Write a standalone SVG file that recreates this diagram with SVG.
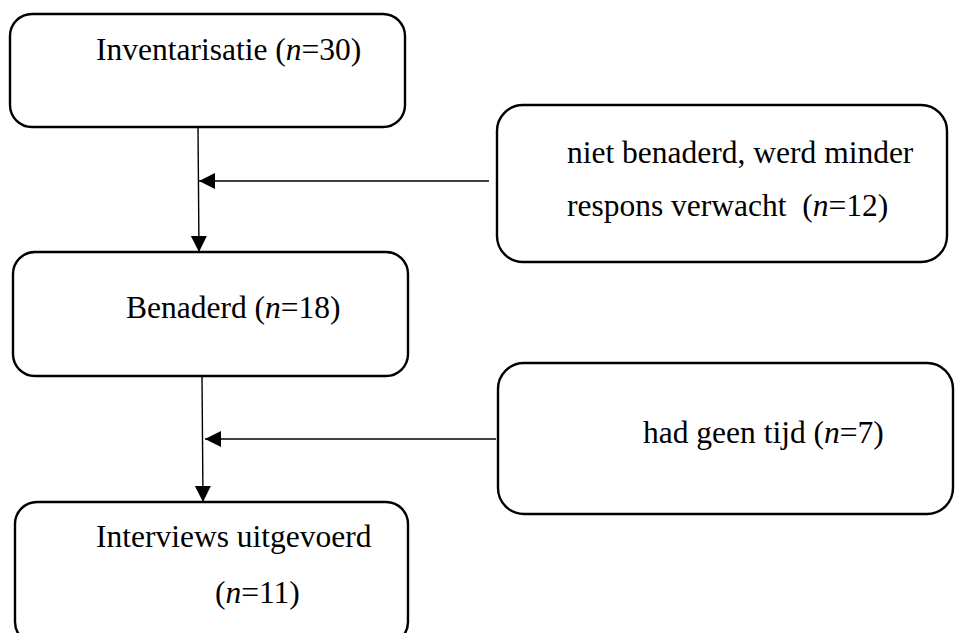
<svg xmlns="http://www.w3.org/2000/svg" width="955" height="633" viewBox="0 0 955 633">
<style>
  .box { fill: #ffffff; stroke: #000000; stroke-width: 2.4; }
  .lbl { font-family: "Liberation Serif", "Times New Roman", serif; font-size: 31.5px; fill: #000000; }
  .it { font-style: italic; }
  .conn { stroke: #000000; stroke-width: 1.4; fill: none; marker-end: url(#arrow); }
</style>
<defs>
  <marker id="arrow" markerUnits="userSpaceOnUse" markerWidth="17" markerHeight="17" refX="16" refY="8" orient="auto">
    <path d="M0,0 L16,8 L0,16 z" fill="#000000"/>
  </marker>
</defs>
<rect width="955" height="633" fill="#ffffff"/>
<g id="connectors">
  <line class="conn" x1="198" y1="127" x2="199" y2="252"/>
  <line class="conn" x1="489" y1="181" x2="199" y2="181"/>
  <line class="conn" x1="202" y1="376" x2="203" y2="502"/>
  <line class="conn" x1="496" y1="439" x2="205" y2="439"/>
</g>
<g id="node-inventarisatie">
  <rect class="box" x="10" y="14" width="395" height="113" rx="22" ry="22"/>
  <text class="lbl" x="96" y="60">Inventarisatie (<tspan class="it">n</tspan>=30)</text>
</g>
<g id="node-niet-benaderd">
  <rect class="box" x="497" y="105" width="450" height="157" rx="26" ry="26"/>
  <text class="lbl" x="567" y="163">niet benaderd, werd minder</text>
  <text class="lbl" x="567" y="216" xml:space="preserve">respons verwacht  (<tspan class="it">n</tspan>=12)</text>
</g>
<g id="node-benaderd">
  <rect class="box" x="13" y="252" width="395" height="124" rx="22" ry="22"/>
  <text class="lbl" x="126" y="318">Benaderd (<tspan class="it">n</tspan>=18)</text>
</g>
<g id="node-geen-tijd">
  <rect class="box" x="498" y="363" width="455" height="151" rx="26" ry="26"/>
  <text class="lbl" x="643" y="443">had geen tijd (<tspan class="it">n</tspan>=7)</text>
</g>
<g id="node-interviews">
  <rect class="box" x="15" y="502" width="393" height="142" rx="22" ry="22"/>
  <text class="lbl" x="96" y="547">Interviews uitgevoerd</text>
  <text class="lbl" x="215" y="603">(<tspan class="it">n</tspan>=11)</text>
</g>
</svg>
